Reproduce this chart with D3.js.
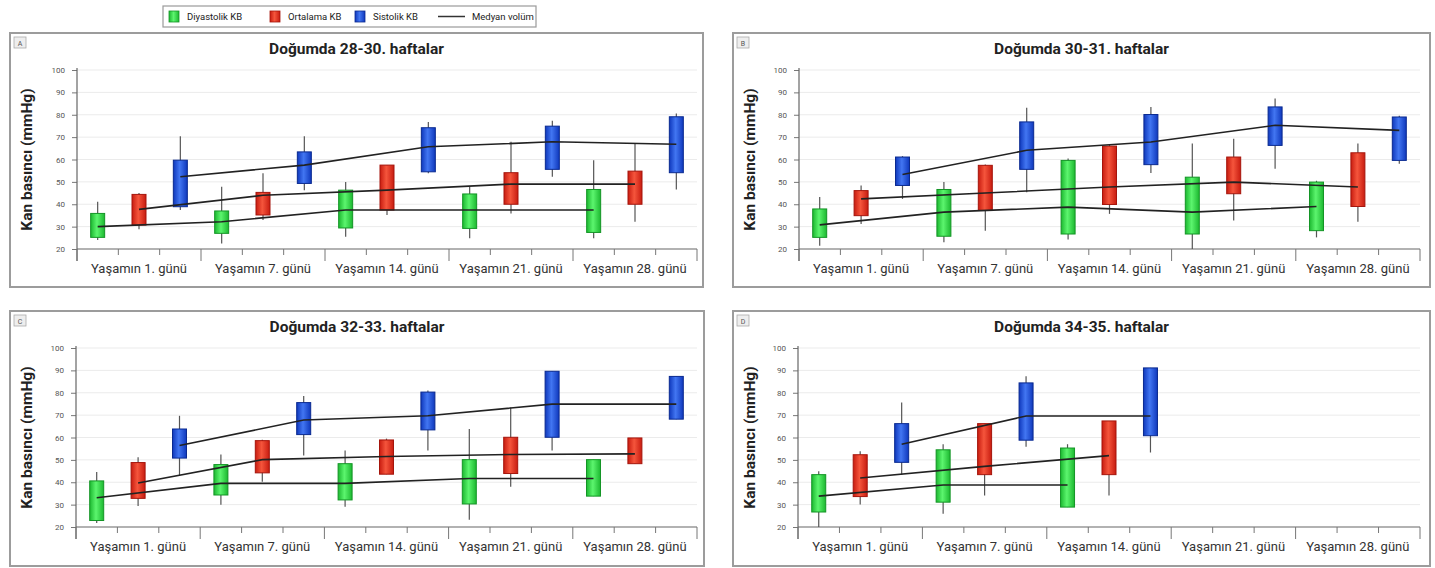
<!DOCTYPE html>
<html><head><meta charset="utf-8">
<script src="https://cdn.jsdelivr.net/npm/d3@7"></script>
<style>
body{margin:0;background:#fff;}
svg{display:block;font-family:Roboto,"DejaVu Sans",sans-serif;}
</style>
</head><body>
<svg id="c" width="1435" height="568"></svg>
<script>
// ---------- DATA ----------
const days = ["Yaşamın 1. günü","Yaşamın 7. günü","Yaşamın 14. günü","Yaşamın 21. günü","Yaşamın 28. günü"];
const seriesNames = ["Diyastolik KB","Ortalama KB","Sistolik KB"];
const lineLegend = "Medyan volüm";
const panelTitles = ["Doğumda 28-30. haftalar","Doğumda 30-31. haftalar","Doğumda 32-33. haftalar","Doğumda 34-35. haftalar"];
const panelLetters = ["A","B","C","D"];
const yTicks = [20,30,40,50,60,70,80,90,100];
const yLabel = "Kan basıncı (mmHg)";

// each entry: [min, q1, median, q3, max]
const A_dia = [[24,25.2,30,35.9,41.1],[22.5,27,32.2,37,47.8],[25.5,29.4,37.4,46.3,50],[24.8,29.2,37.4,44.6,47.8],[24.8,27.4,37.4,46.6,59.7]];
const A_mean = [[28.8,30.7,37.7,44.4,45],[33,35.2,44,45.3,53.8],[35.2,37.4,46.3,57.5,57.5],[35.9,40,49,54.1,67.9],[32.2,40,49,54.8,67.2]];
const A_sys = [[37.4,38.9,52.3,59.7,70.4],[46.3,49.3,57.5,63.4,70.4],[53.8,54.5,65.7,74.2,76.8],[52.3,55.6,67.9,74.9,77.3],[46.6,54.1,66.8,79.1,80.6]];

const B_dia = [[21.5,25.2,30.8,37.9,43.2],[23,25.7,36.5,46.6,49.9],[24.2,26.7,38.7,59.6,60.5],[20,26.7,36.5,52.1,67.1],[25.2,28.2,39,49.9,50.5]];
const B_mean = [[31.2,34.9,42.4,46.1,48.4],[28.2,37.2,45,57.4,57.8],[35.7,39.9,47.7,66,66.5],[32.7,44.7,49.9,61.1,69.3],[32.2,39,47.7,63,67.1]];
const B_sys = [[42.4,48.4,53.3,61.1,61.5],[45.4,55.6,64.1,76.8,83.1],[54,57.7,67.8,80.1,83.5],[55.9,66.3,75.3,83.5,87.3],[58.1,59.6,73,79,79.5]];

const C_dia = [[21.8,22.9,33.1,40.6,44.6],[29.9,34.3,39.5,47.9,52.4],[29.1,32.1,39.5,48.3,54.2],[23.2,30.3,41.7,50.1,63.8],[33.8,33.8,41.7,50.1,50.1]];
const C_mean = [[29.4,32.8,39.7,48.8,51.2],[40.2,44.2,50.1,58.6,59],[43.6,43.6,51.5,58.9,59.5],[38,43.9,52.4,60.1,73.4],[48.3,48.3,52.7,59.8,59.8]];
const C_sys = [[43.1,50.8,56.4,63.8,69.7],[52,61.3,67.8,75.6,78.5],[54.2,63.4,69.7,80.3,81],[54.2,60.1,74.9,89.6,89.6],[68.2,68.2,74.9,87.3,87.3]];

const D_dia = [[20,26.7,33.8,43.4,44.9],[25.9,31.1,38.8,54.5,57],[28.9,28.9,38.8,55.3,57],null,null];
const D_mean = [[30.1,33.6,41.9,52.3,53.8],[34.1,43.4,47.1,66.2,66.2],[34.1,43.4,51.9,67.4,67.4],null,null];
const D_sys = [[43.4,48.9,57,66.2,75.6],[55.9,58.8,69.6,84.4,87.4],[53.3,60.8,69.6,91.1,91.1],null,null];

const panelData = [[A_dia,A_mean,A_sys],[B_dia,B_mean,B_sys],[C_dia,C_mean,C_sys],[D_dia,D_mean,D_sys]];

// ---------- STYLE / LAYOUT ----------
const fills = [["#1cb830","#5cf56e"],["#c81c10","#f5553c"],["#0f38bc","#4276f2"]];
const strokes = ["#149526","#a5150c","#0a2a90"];
const layout = [
  {x:10,y:33,w:693,h:254,ax0:77,ax1:697},
  {x:733,y:33,w:697,h:254,ax0:799,ax1:1420},
  {x:10,y:311,w:694,h:255,ax0:76,ax1:697},
  {x:733,y:311,w:697,h:255,ax0:798,ax1:1420}
];

const svg = d3.select("#c");
const defs = svg.append("defs");
fills.forEach((f,i)=>{
  const g = defs.append("linearGradient").attr("id","g"+i).attr("x1","0").attr("x2","1").attr("y1","0").attr("y2","0");
  g.append("stop").attr("offset","0%").attr("stop-color",f[0]);
  g.append("stop").attr("offset","45%").attr("stop-color",f[1]);
  g.append("stop").attr("offset","100%").attr("stop-color",f[0]);
});

// ---------- LEGEND ----------
const leg = svg.append("g");
leg.append("rect").attr("x",163).attr("y",6).attr("width",373).attr("height",21)
  .attr("fill","#fff").attr("stroke","#9a9a9a").attr("stroke-width",1.2);
const legX = [169,270,355];
seriesNames.forEach((s,i)=>{
  leg.append("rect").attr("x",legX[i]).attr("y",11).attr("width",10).attr("height",11)
    .attr("fill","url(#g"+i+")").attr("stroke",strokes[i]).attr("stroke-width",0.8);
  leg.append("text").attr("x",legX[i]+18).attr("y",20).attr("font-size",9.5).attr("fill","#222").text(s);
});
leg.append("line").attr("x1",438).attr("x2",465).attr("y1",16.5).attr("y2",16.5).attr("stroke","#333").attr("stroke-width",1.5);
leg.append("text").attr("x",472).attr("y",20).attr("font-size",9.5).attr("fill","#222").text(lineLegend);

// ---------- PANELS ----------
layout.forEach((L,p)=>{
  const g = svg.append("g");
  g.append("rect").attr("x",L.x).attr("y",L.y).attr("width",L.w).attr("height",L.h)
    .attr("fill","#fff").attr("stroke","#9c9c9c").attr("stroke-width",2);
  // letter badge
  g.append("rect").attr("x",L.x+4).attr("y",L.y+4).attr("width",12).attr("height",11)
    .attr("fill","#eee").attr("stroke","#aaa").attr("stroke-width",0.8);
  g.append("text").attr("x",L.x+10).attr("y",L.y+12.5).attr("text-anchor","middle")
    .attr("font-size",7).attr("fill","#555").text(panelLetters[p]);
  // title
  g.append("text").attr("x",L.x+L.w/2).attr("y",L.y+21).attr("text-anchor","middle")
    .attr("font-size",15.5).attr("font-weight","bold").attr("fill","#222").text(panelTitles[p]);

  const yTop = L.y+37, yBot = L.y+216;
  const y = d3.scaleLinear().domain([20,100]).range([yBot,yTop]);
  const gx = d3.scaleBand().domain(days).range([L.ax0,L.ax1]);
  const sx = d3.scaleBand().domain(seriesNames).range([0,gx.bandwidth()]);

  // y label
  g.append("text").attr("transform",`translate(${L.x+22},${(yTop+yBot)/2}) rotate(-90)`)
    .attr("text-anchor","middle").attr("font-size",15.5).attr("font-weight","bold").attr("fill","#222").text(yLabel);

  // grid
  g.append("g").selectAll("line").data(yTicks.filter(t=>t>20)).join("line")
    .attr("x1",L.ax0).attr("x2",L.ax1).attr("y1",d=>y(d)).attr("y2",d=>y(d))
    .attr("stroke","#ebebeb").attr("stroke-width",1);

  // y axis
  const ya = g.append("g").attr("transform",`translate(${L.ax0},0)`)
    .call(d3.axisLeft(y).tickValues(yTicks).tickSize(5).tickPadding(7));
  ya.select(".domain").remove();
  ya.selectAll(".tick line").attr("stroke","#777");
  ya.selectAll(".tick text").attr("font-size",8).attr("fill","#555").attr("font-family","Roboto,sans-serif");
  g.append("line").attr("x1",L.ax0).attr("x2",L.ax0).attr("y1",yTop-2).attr("y2",yBot+12)
    .attr("stroke","#666").attr("stroke-width",1.2);

  // x axis
  g.append("line").attr("x1",L.ax0).attr("x2",L.ax1).attr("y1",yBot).attr("y2",yBot)
    .attr("stroke","#666").attr("stroke-width",1.2);
  const major = days.map(d=>gx(d)).concat([L.ax1]);
  g.append("g").selectAll("line").data(major).join("line")
    .attr("x1",d=>d).attr("x2",d=>d).attr("y1",yBot).attr("y2",yBot+12)
    .attr("stroke","#777").attr("stroke-width",1);
  const minor = [];
  days.forEach(d=>{ seriesNames.slice(1).forEach(s=>minor.push(gx(d)+sx(s))); });
  g.append("g").selectAll("line").data(minor).join("line")
    .attr("x1",d=>d).attr("x2",d=>d).attr("y1",yBot).attr("y2",yBot+6)
    .attr("stroke","#777").attr("stroke-width",1);
  g.append("g").selectAll("text").data(days).join("text")
    .attr("x",d=>gx(d)+gx.bandwidth()/2).attr("y",L.y+240).attr("text-anchor","middle")
    .attr("font-size",13).attr("fill","#333").text(d=>d);

  const cx = (s,i)=>gx(days[i])+sx(s)+sx.bandwidth()/2;
  const bw = 14;

  panelData[p].forEach((arr,si)=>{
    const s = seriesNames[si];
    const pts = arr.map((v,i)=>v?{i,v}:null).filter(Boolean);
    const sg = g.append("g");
    sg.selectAll("line.w").data(pts).join("line").attr("class","w")
      .attr("x1",d=>cx(s,d.i)).attr("x2",d=>cx(s,d.i))
      .attr("y1",d=>y(d.v[4])).attr("y2",d=>y(d.v[0]))
      .attr("stroke","#555").attr("stroke-width",1.2);
    sg.selectAll("rect").data(pts).join("rect")
      .attr("x",d=>cx(s,d.i)-bw/2).attr("width",bw)
      .attr("y",d=>y(d.v[3])).attr("height",d=>y(d.v[1])-y(d.v[3]))
      .attr("fill","url(#g"+si+")").attr("stroke",strokes[si]).attr("stroke-width",1);
  });
  // median lines on top
  panelData[p].forEach((arr,si)=>{
    const s = seriesNames[si];
    const line = d3.line().defined(d=>d.v).x(d=>cx(s,d.i)).y(d=>y(d.v[2])).curve(d3.curveLinear);
    g.append("path").datum(arr.map((v,i)=>({i,v}))).attr("d",line)
      .attr("fill","none").attr("stroke","#222").attr("stroke-width",1.6);
  });
});
</script>
</body></html>
